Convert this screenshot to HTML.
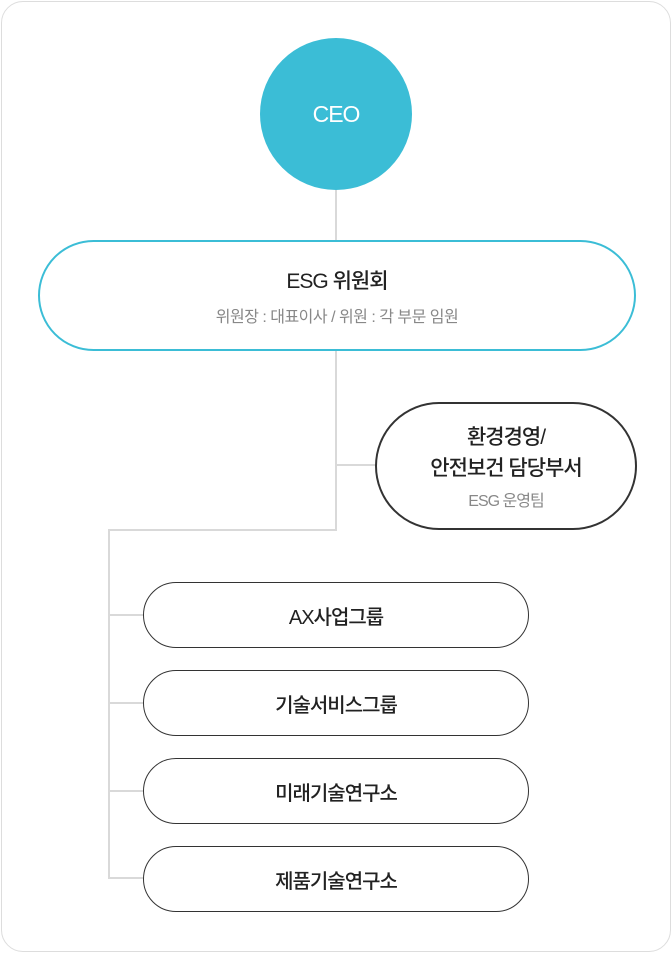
<!DOCTYPE html>
<html><head><meta charset="utf-8"><style>
body{margin:0;width:672px;height:953px;background:#fff;font-family:"Liberation Sans","Noto Sans CJK KR",sans-serif;position:relative;overflow:hidden}
.a{position:absolute;box-sizing:border-box}
.outer{left:1px;top:1px;width:670px;height:951px;border:1px solid #ddd;border-radius:22px}
.ln{position:absolute;background:#d9d9d9}
.c{display:flex;flex-direction:column;align-items:center;justify-content:center;text-align:center}
.bx{border:1.5px solid #333;border-radius:33px;font-size:20px;color:#222;letter-spacing:-1px;font-weight:500}
</style></head><body>
<div class="a outer"></div>
<div class="ln" style="left:335px;top:188px;width:2px;height:52px"></div>
<div class="ln" style="left:335px;top:350px;width:2px;height:181px"></div>
<div class="ln" style="left:336px;top:464px;width:40px;height:2px"></div>
<div class="ln" style="left:108px;top:529px;width:229px;height:2px"></div>
<div class="ln" style="left:108px;top:529px;width:2px;height:350px"></div>
<div class="ln" style="left:108px;top:614px;width:36px;height:2px"></div>
<div class="ln" style="left:108px;top:702px;width:36px;height:2px"></div>
<div class="ln" style="left:108px;top:790px;width:36px;height:2px"></div>
<div class="ln" style="left:108px;top:877px;width:36px;height:2px"></div>
<div class="a c" style="left:260px;top:38px;width:152px;height:152px;border-radius:50%;background:#3bbdd6;color:#fff;font-size:23px;letter-spacing:-1px;font-weight:500">CEO</div>
<div class="a c" style="left:38px;top:240px;width:598px;height:111px;border:2px solid #3bbdd6;border-radius:56px;background:#fff">
<div style="font-size:21px;color:#222;letter-spacing:-1px;font-weight:500">ESG 위원회</div>
<div style="font-size:16px;color:#888;margin-top:8px;letter-spacing:-0.5px">위원장 : 대표이사 / 위원 : 각 부문 임원</div></div>
<div class="a c" style="left:375px;top:402px;width:262px;height:128px;border:2px solid #333;border-radius:64px;background:#fff">
<div style="font-size:21px;color:#222;line-height:31px;letter-spacing:-1px;font-weight:500">환경경영/<br>안전보건 담당부서</div>
<div style="font-size:16px;color:#888;margin-top:3px;letter-spacing:-1px">ESG 운영팀</div></div>
<div class="a c bx" style="left:143px;top:582px;width:386px;height:66px">AX사업그룹</div>
<div class="a c bx" style="left:143px;top:670px;width:386px;height:66px">기술서비스그룹</div>
<div class="a c bx" style="left:143px;top:758px;width:386px;height:66px">미래기술연구소</div>
<div class="a c bx" style="left:143px;top:846px;width:386px;height:66px">제품기술연구소</div>
</body></html>
